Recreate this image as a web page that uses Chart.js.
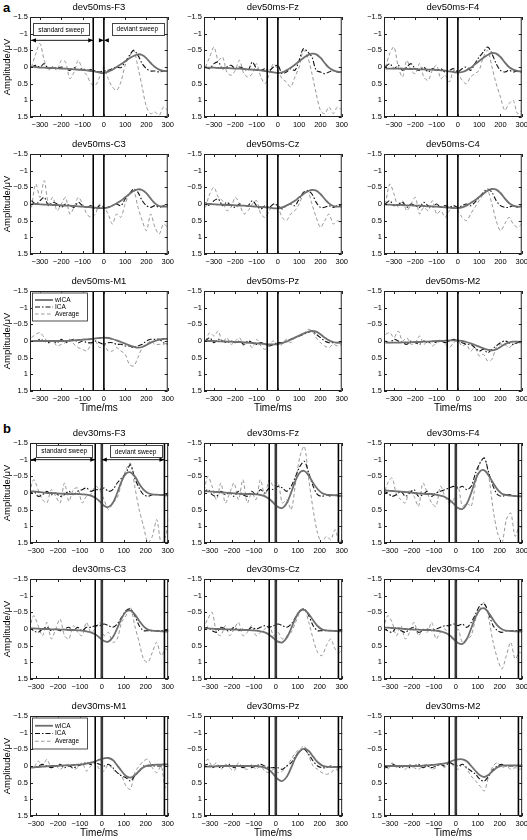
<!DOCTYPE html>
<html>
<head>
<meta charset="utf-8">
<script src="https://cdn.jsdelivr.net/npm/chart.js@4.4.1/dist/chart.umd.min.js"></script>
<style>
  body { margin: 0; width: 527px; height: 840px; overflow: hidden; background: #fff; position: relative; font-family: "Liberation Sans", Arial, sans-serif; }
  canvas { position: absolute; }
  .tag { position: absolute; font-weight: bold; font-size: 13px; line-height: 13px; }
</style>
</head>
<body>
<div class="tag" style="left:3px; top:1px;">a</div>
<div class="tag" style="left:3px; top:422px;">b</div>
<script>
// time axes (ms)
const timeA = [-340,-320,-300,-280,-260,-240,-220,-200,-180,-160,-140,-120,-100,-80,-60,-40,-20,0,20,40,60,80,100,120,140,160,180,200,220,240,260,280,300];
const timeB = [-330,-310,-290,-270,-250,-230,-210,-190,-170,-150,-130,-110,-90,-70,-50,-30,-10,10,30,50,70,90,110,130,150,170,190,210,230,250,270,290,310];
const xTicks = [-300,-200,-100,0,100,200,300];
const yTicks = [-1.5,-1,-0.5,0,0.5,1,1.5];
const xRangeA = [-347, 300];
const xRangeB = [-327, 302];
const markA = [-50, 0];
const markB = [-30, 0, 285];
const seriesNames = ['wICA', 'ICA', 'Average'];

// (a) deviant 50 ms
const a_F3_wica = [0.00,0.00,0.02,0.02,0.03,0.03,0.04,0.05,0.05,0.06,0.07,0.08,0.09,0.10,0.12,0.14,0.17,0.18,0.14,0.08,0.00,-0.08,-0.17,-0.26,-0.33,-0.38,-0.36,-0.26,-0.12,0.00,0.08,0.12,0.12];
const a_F3_ica  = [0.00,-0.05,0.00,-0.10,0.05,0.00,0.05,0.00,0.05,0.10,0.02,0.08,0.05,0.10,0.08,0.12,0.15,0.12,0.10,0.05,0.00,0.02,-0.15,-0.35,-0.50,-0.35,-0.10,0.05,0.12,0.12,0.15,0.12,0.12];
const a_F3_avg  = [0.00,-0.40,-0.70,-0.20,0.10,0.00,0.10,-0.20,-0.15,0.35,0.15,-0.20,0.10,0.25,0.50,0.55,0.30,0.00,0.35,0.60,0.70,0.45,-0.05,-0.30,-0.50,0.00,0.60,1.20,1.40,1.35,1.45,1.20,1.30];

const a_Fz_wica = [0.02,0.02,0.02,0.03,0.03,0.03,0.04,0.05,0.05,0.06,0.07,0.08,0.09,0.10,0.12,0.14,0.16,0.18,0.16,0.10,0.02,-0.07,-0.17,-0.27,-0.35,-0.40,-0.38,-0.28,-0.12,0.02,0.10,0.14,0.15];
const a_Fz_ica  = [0.00,0.05,-0.10,-0.15,0.05,0.00,-0.05,0.05,0.00,0.05,0.10,-0.15,0.05,0.10,0.05,0.10,0.00,-0.05,0.20,0.15,0.05,0.10,-0.20,-0.55,-0.45,-0.30,0.10,0.15,0.20,0.15,0.10,0.15,0.15];
const a_Fz_avg  = [0.00,-0.30,-0.60,-0.20,-0.30,0.15,0.25,0.10,-0.20,0.20,0.30,0.20,-0.10,0.30,0.50,0.20,-0.10,0.10,0.35,0.45,0.60,0.30,0.00,-0.50,-0.30,0.20,0.80,1.30,1.40,1.20,1.40,1.20,1.30];

const a_F4_wica = [0.05,0.05,0.05,0.05,0.05,0.06,0.06,0.06,0.07,0.07,0.08,0.08,0.09,0.10,0.11,0.13,0.15,0.17,0.15,0.10,0.02,-0.08,-0.18,-0.28,-0.36,-0.42,-0.40,-0.30,-0.14,0.00,0.08,0.12,0.14];
const a_F4_ica  = [0.00,-0.10,0.05,-0.05,0.10,0.00,-0.10,0.05,0.10,0.00,0.15,0.05,0.10,0.05,0.15,0.10,0.05,0.15,0.05,0.00,0.10,-0.10,-0.30,-0.45,-0.60,-0.40,-0.10,0.10,0.15,0.10,0.15,0.12,0.15];
const a_F4_avg  = [0.00,-0.40,-0.60,0.00,0.30,-0.20,0.10,0.20,-0.10,0.30,0.40,0.10,-0.05,0.35,0.25,0.45,0.10,0.20,0.40,0.50,0.30,0.20,0.10,-0.30,-0.50,0.00,0.50,0.90,1.30,1.10,1.00,1.40,1.30];

const a_C3_wica = [0.00,0.00,0.01,0.02,0.02,0.03,0.03,0.04,0.05,0.05,0.06,0.07,0.08,0.09,0.10,0.11,0.12,0.12,0.10,0.05,-0.02,-0.10,-0.20,-0.30,-0.39,-0.44,-0.42,-0.32,-0.16,-0.02,0.06,0.08,0.08];
const a_C3_ica  = [-0.10,0.00,-0.10,-0.20,0.05,-0.05,0.00,0.10,0.00,0.05,0.10,-0.05,0.05,0.10,0.05,0.15,0.05,0.10,0.10,0.05,0.00,0.05,-0.15,-0.30,-0.45,-0.35,-0.10,0.05,0.10,0.05,0.10,0.05,0.05];
const a_C3_avg  = [0.10,-0.60,-0.20,-0.70,0.00,-0.20,0.20,0.00,-0.20,0.30,0.10,-0.20,0.00,0.30,0.40,0.30,0.00,0.10,0.30,0.60,0.30,0.40,0.00,-0.30,-0.40,0.10,0.50,0.80,0.30,0.70,0.90,0.60,0.70];

const a_Cz_wica = [0.00,0.00,0.01,0.02,0.02,0.03,0.03,0.04,0.05,0.05,0.06,0.07,0.08,0.09,0.10,0.11,0.13,0.13,0.10,0.05,-0.02,-0.10,-0.20,-0.30,-0.38,-0.42,-0.40,-0.30,-0.15,-0.02,0.06,0.08,0.08];
const a_Cz_ica  = [-0.05,0.05,-0.10,-0.15,0.05,-0.05,0.05,0.10,0.00,0.05,0.05,-0.10,0.05,0.15,0.05,0.10,0.00,0.05,0.15,0.05,0.00,0.05,-0.15,-0.35,-0.40,-0.30,-0.05,0.10,0.10,0.05,0.10,0.05,0.05];
const a_Cz_avg  = [0.10,-0.30,-0.50,-0.20,-0.10,0.20,0.10,-0.20,0.00,0.30,0.20,0.00,-0.10,0.30,0.40,0.20,0.00,0.10,0.40,0.50,0.30,0.20,0.00,-0.30,-0.40,0.00,0.40,0.70,0.50,0.30,0.60,0.50,0.60];

const a_C4_wica = [0.02,0.02,0.03,0.03,0.03,0.04,0.04,0.05,0.05,0.06,0.07,0.07,0.08,0.09,0.10,0.11,0.12,0.12,0.10,0.05,-0.03,-0.11,-0.21,-0.31,-0.40,-0.45,-0.43,-0.33,-0.17,-0.03,0.05,0.08,0.08];
const a_C4_ica  = [0.00,-0.10,0.05,0.00,-0.05,0.10,0.00,0.05,0.10,-0.05,0.05,0.10,0.00,0.10,0.05,0.10,0.05,0.10,0.05,0.00,0.05,-0.05,-0.20,-0.35,-0.45,-0.35,-0.10,0.05,0.10,0.10,0.05,0.10,0.05];
const a_C4_avg  = [0.00,-0.60,-0.30,0.10,-0.10,0.20,0.00,-0.20,0.30,0.10,0.20,-0.10,0.30,0.20,0.40,0.20,0.10,0.20,0.40,0.50,0.30,0.10,-0.10,-0.30,-0.40,0.00,0.50,0.80,0.60,0.40,0.60,0.70,0.60];

const a_M1_wica = [0.00,0.00,0.00,0.00,0.00,0.00,0.00,0.00,0.00,-0.01,-0.02,-0.03,-0.04,-0.05,-0.06,-0.08,-0.09,-0.10,-0.09,-0.06,-0.02,0.03,0.08,0.13,0.17,0.20,0.18,0.12,0.05,0.00,-0.04,-0.06,-0.06];
const a_M1_ica  = [0.00,0.00,-0.05,0.00,0.05,0.00,0.05,-0.05,0.05,0.00,-0.05,0.05,0.00,0.05,0.05,0.00,0.05,0.10,0.05,0.05,0.10,0.10,0.15,0.15,0.20,0.15,0.10,0.00,-0.05,-0.05,-0.05,0.05,0.10];
const a_M1_avg  = [-0.10,-0.20,-0.25,-0.10,0.05,0.00,0.15,0.10,0.05,-0.05,0.10,0.20,0.25,0.30,0.10,0.00,0.20,0.10,0.30,0.30,0.20,0.30,0.40,0.70,0.75,0.50,0.20,0.10,0.00,0.10,0.10,0.10,0.05];

const a_Pz_wica = [0.00,0.00,0.00,0.01,0.01,0.02,0.02,0.03,0.03,0.04,0.05,0.06,0.07,0.08,0.09,0.10,0.10,0.09,0.06,0.02,-0.04,-0.10,-0.16,-0.22,-0.27,-0.30,-0.28,-0.20,-0.10,-0.02,0.03,0.05,0.05];
const a_Pz_ica  = [0.00,-0.10,0.05,-0.05,0.00,0.05,0.00,0.05,0.00,0.10,0.00,0.05,0.10,0.05,0.10,0.15,0.10,0.05,0.05,0.00,-0.05,-0.10,-0.15,-0.20,-0.25,-0.30,-0.20,-0.10,0.00,0.05,0.05,0.05,0.05];
const a_Pz_avg  = [0.00,-0.25,-0.15,-0.30,0.05,-0.10,0.10,0.00,-0.10,0.15,0.05,0.20,-0.05,0.15,0.25,0.10,0.00,0.15,0.10,-0.05,0.05,-0.10,-0.15,-0.20,-0.35,-0.30,-0.10,0.05,0.15,0.20,0.10,0.15,0.10];

const a_M2_wica = [0.05,0.05,0.05,0.05,0.04,0.04,0.04,0.03,0.03,0.02,0.02,0.01,0.00,0.00,-0.01,-0.02,-0.02,-0.02,0.00,0.03,0.07,0.12,0.17,0.22,0.26,0.28,0.25,0.18,0.10,0.05,0.02,0.02,0.03];
const a_M2_ica  = [0.00,0.05,-0.05,0.00,0.05,0.10,0.00,0.05,0.10,0.00,0.05,0.00,0.05,0.00,0.05,0.00,-0.05,0.00,0.05,0.10,0.10,0.20,0.30,0.25,0.35,0.25,0.15,0.05,0.00,0.05,0.10,0.05,0.05];
const a_M2_avg  = [-0.20,-0.25,-0.10,-0.30,0.00,-0.10,0.10,0.05,-0.15,0.10,0.00,0.15,0.05,-0.05,0.10,0.20,0.05,0.00,0.15,0.10,0.30,0.20,0.45,0.40,0.60,0.55,0.20,0.10,0.10,0.20,0.10,0.05,0.05];

// (b) deviant 30 ms
const b_F3_wica = [-0.05,-0.05,-0.03,-0.02,0.00,0.00,0.01,0.02,0.02,0.03,0.03,0.03,0.04,0.05,0.08,0.14,0.25,0.38,0.42,0.30,0.00,-0.35,-0.58,-0.62,-0.50,-0.28,-0.10,0.00,0.04,0.05,0.06,0.07,0.08];
const b_F3_ica  = [0.05,-0.05,0.10,0.05,-0.05,0.05,0.00,0.10,0.05,-0.05,0.05,-0.05,-0.10,-0.15,-0.05,-0.10,-0.10,-0.15,-0.05,-0.10,-0.30,-0.45,-0.60,-0.85,-0.45,-0.15,0.05,0.10,0.05,0.05,0.05,0.05,0.05];
const b_F3_avg  = [0.00,-0.40,-0.10,0.20,0.30,-0.10,0.10,0.30,-0.30,0.25,-0.10,-0.15,0.30,0.10,0.05,-0.20,-0.10,0.20,0.50,0.30,0.15,-0.30,-0.70,-0.90,-0.20,0.50,1.00,1.50,1.30,0.80,1.50,1.30,0.50];

const b_Fz_wica = [-0.05,-0.05,-0.04,-0.03,-0.02,-0.01,0.00,0.01,0.02,0.03,0.03,0.03,0.04,0.06,0.10,0.18,0.30,0.42,0.45,0.30,-0.02,-0.38,-0.62,-0.66,-0.52,-0.30,-0.12,0.00,0.05,0.06,0.07,0.08,0.09];
const b_Fz_ica  = [0.00,-0.10,0.05,0.10,-0.05,0.05,0.00,0.10,-0.05,0.05,0.10,-0.05,0.05,-0.10,0.00,-0.15,-0.10,-0.20,-0.15,-0.05,-0.20,-0.50,-0.80,-0.95,-0.60,-0.20,0.05,0.10,0.05,0.10,0.05,0.10,0.10];
const b_Fz_avg  = [0.10,-0.50,-0.20,0.20,-0.30,0.30,0.00,-0.30,0.20,-0.40,0.30,0.00,0.20,-0.40,0.10,-0.40,-0.20,-0.30,0.30,0.20,0.50,-0.30,-1.10,-1.40,-0.40,0.50,1.20,1.50,1.30,1.40,1.10,1.50,1.20];

const b_F4_wica = [-0.08,-0.07,-0.06,-0.05,-0.04,-0.03,-0.02,0.00,0.01,0.02,0.03,0.03,0.05,0.08,0.12,0.20,0.32,0.45,0.48,0.32,0.00,-0.40,-0.65,-0.68,-0.52,-0.30,-0.10,0.02,0.06,0.08,0.09,0.10,0.10];
const b_F4_ica  = [-0.05,0.00,0.10,0.05,-0.05,0.10,0.00,-0.10,0.10,0.05,-0.05,0.10,0.00,-0.05,-0.10,-0.15,-0.20,-0.15,-0.20,-0.10,-0.20,-0.60,-0.90,-1.05,-0.60,-0.20,0.05,0.10,0.05,0.05,0.10,0.10,0.10];
const b_F4_avg  = [0.10,-0.30,-0.45,0.05,0.20,0.30,-0.10,0.10,0.40,-0.30,0.00,0.30,0.40,-0.20,0.10,0.30,0.20,-0.20,0.40,0.30,0.40,-0.30,-0.90,-1.05,-0.50,0.50,1.20,1.50,0.80,0.60,1.30,1.00,1.20];

const b_C3_wica = [-0.02,-0.02,-0.01,0.00,0.00,0.01,0.01,0.02,0.02,0.03,0.03,0.04,0.05,0.07,0.10,0.16,0.26,0.36,0.38,0.25,-0.02,-0.32,-0.52,-0.55,-0.44,-0.25,-0.08,0.02,0.05,0.06,0.07,0.08,0.08];
const b_C3_ica  = [-0.05,0.05,0.10,0.00,-0.05,0.05,0.00,0.05,0.00,-0.05,0.05,-0.05,0.05,-0.05,-0.05,-0.10,-0.10,-0.15,-0.10,-0.05,-0.15,-0.35,-0.55,-0.60,-0.40,-0.10,0.05,0.05,0.05,0.05,0.05,0.05,0.05];
const b_C3_avg  = [0.00,-0.40,-0.10,0.20,-0.20,0.30,0.00,-0.30,0.20,0.30,-0.10,0.10,0.20,-0.20,0.10,0.00,-0.20,0.20,0.10,0.40,0.30,-0.20,-0.40,-0.65,-0.10,0.40,0.90,1.00,0.70,0.40,0.80,0.60,0.70];

const b_Cz_wica = [-0.02,-0.02,-0.01,0.00,0.00,0.01,0.01,0.02,0.02,0.03,0.03,0.04,0.05,0.07,0.10,0.17,0.28,0.38,0.40,0.26,-0.02,-0.33,-0.54,-0.57,-0.45,-0.26,-0.09,0.01,0.04,0.05,0.06,0.07,0.07];
const b_Cz_ica  = [0.00,-0.05,0.05,0.10,-0.05,0.00,0.05,-0.05,0.05,0.00,0.05,-0.05,0.00,-0.05,-0.10,-0.05,-0.10,-0.15,-0.10,-0.05,-0.15,-0.35,-0.55,-0.60,-0.40,-0.10,0.05,0.05,0.05,0.05,0.05,0.05,0.05];
const b_Cz_avg  = [0.00,-0.30,-0.50,0.10,0.20,-0.10,0.20,0.00,-0.20,0.20,0.10,-0.10,0.20,0.10,0.00,-0.10,0.20,0.10,0.30,0.20,0.10,-0.20,-0.50,-0.60,-0.20,0.30,0.70,0.80,0.50,0.30,0.60,0.70,0.50];

const b_C4_wica = [-0.04,-0.04,-0.03,-0.02,-0.01,0.00,0.01,0.02,0.02,0.03,0.03,0.04,0.05,0.07,0.11,0.18,0.30,0.42,0.45,0.30,-0.02,-0.36,-0.58,-0.62,-0.48,-0.28,-0.10,0.01,0.05,0.06,0.07,0.08,0.08];
const b_C4_ica  = [0.00,0.05,0.10,-0.05,0.05,0.10,0.00,-0.05,0.10,0.05,0.00,0.05,0.00,-0.05,-0.10,-0.10,-0.15,-0.10,-0.15,-0.05,-0.20,-0.45,-0.70,-0.75,-0.45,-0.10,0.05,0.10,0.05,0.05,0.05,0.05,0.05];
const b_C4_avg  = [0.00,-0.40,-0.20,0.20,-0.10,0.30,0.10,-0.20,0.20,0.00,0.10,-0.20,0.30,0.10,0.00,0.20,0.30,0.00,0.40,0.30,0.20,-0.30,-0.60,-0.80,-0.30,0.40,0.90,1.20,0.80,0.40,0.90,0.70,0.80];

const b_M1_wica = [0.05,0.04,0.03,0.02,0.01,0.00,0.00,-0.01,-0.02,-0.02,-0.03,-0.04,-0.05,-0.07,-0.10,-0.14,-0.19,-0.23,-0.24,-0.18,-0.02,0.15,0.30,0.35,0.28,0.15,0.04,-0.02,-0.03,-0.04,-0.04,-0.05,-0.05];
const b_M1_ica  = [0.00,0.05,0.00,-0.05,0.00,0.05,0.00,-0.05,0.05,0.00,0.05,0.00,-0.05,-0.10,-0.05,-0.10,-0.05,0.00,-0.05,0.05,0.20,0.30,0.35,0.45,0.30,0.15,0.00,0.00,0.00,0.00,0.00,0.00,0.00];
const b_M1_avg  = [0.00,0.05,-0.15,0.00,-0.20,0.05,0.00,0.10,0.00,-0.05,0.10,0.05,-0.10,0.15,0.00,-0.10,0.10,0.15,-0.05,0.10,0.20,0.30,0.60,0.70,0.20,0.00,-0.15,-0.20,0.05,0.20,0.00,0.65,0.40];

const b_Pz_wica = [0.02,0.02,0.01,0.01,0.00,0.00,0.00,0.00,0.00,0.00,0.00,0.00,0.00,0.02,0.05,0.12,0.25,0.40,0.45,0.32,0.05,-0.25,-0.45,-0.52,-0.45,-0.28,-0.12,-0.02,0.02,0.03,0.03,0.03,0.03];
const b_Pz_ica  = [0.00,-0.05,0.05,0.00,0.05,0.00,-0.05,0.05,0.00,0.05,0.00,0.05,0.00,-0.05,0.00,0.05,0.05,0.05,0.10,0.00,-0.10,-0.30,-0.45,-0.50,-0.35,-0.15,0.00,0.05,0.05,0.00,0.05,0.05,0.05];
const b_Pz_avg  = [0.00,-0.20,0.00,-0.10,0.10,-0.05,0.05,0.15,-0.10,0.05,0.10,-0.05,0.10,0.00,0.15,0.20,0.10,0.20,0.15,0.00,-0.20,-0.40,-0.50,-0.60,-0.30,0.00,0.10,0.20,0.25,0.20,0.10,0.15,0.10];

const b_M2_wica = [0.00,0.00,0.00,0.00,0.00,0.00,0.00,0.00,0.00,-0.01,-0.02,-0.03,-0.04,-0.06,-0.08,-0.12,-0.17,-0.20,-0.20,-0.14,0.00,0.15,0.28,0.33,0.26,0.14,0.04,-0.01,-0.02,-0.02,-0.02,-0.02,-0.02];
const b_M2_ica  = [0.00,0.05,-0.05,0.00,0.05,0.00,0.05,0.00,-0.05,0.05,0.00,0.05,0.00,-0.05,0.00,-0.10,-0.05,0.00,-0.05,0.05,0.15,0.25,0.40,0.45,0.30,0.10,0.00,-0.05,0.00,0.00,0.00,0.00,0.00];
const b_M2_avg  = [0.00,0.10,-0.10,0.05,0.00,0.10,-0.05,0.05,0.10,0.00,-0.05,0.10,0.05,-0.05,0.05,-0.10,0.00,0.10,-0.05,0.10,0.30,0.45,0.60,0.75,0.30,0.00,-0.10,0.05,0.00,0.10,0.05,0.10,0.05];

// sweep annotation (first panel of each part): box centres in data units
const sweepLabels = ['standard sweep', 'deviant sweep'];
const sweepBoxA = [[-200, -1.13], [157, -1.15]];
const sweepBoxB = [[-171, -1.26], [154, -1.25]];
const sweepArrowY = [-0.8, -1.0];

// layout
const FONT = '"Liberation Sans", Arial, sans-serif';
const PLOT_W = 139, PLOT_H = 100, AXIS_W = 30, TOP_H = 17, PAD_R = 8;
const colLeft = [30, 204, 384];
const rowTopA = [17, 154, 291];
const rowTopB = [443, 579, 716];

const fmt = v => String(v).replace('-', '\u2212');

const panelsA = [
  ['F3', a_F3_wica, a_F3_ica, a_F3_avg], ['Fz', a_Fz_wica, a_Fz_ica, a_Fz_avg], ['F4', a_F4_wica, a_F4_ica, a_F4_avg],
  ['C3', a_C3_wica, a_C3_ica, a_C3_avg], ['Cz', a_Cz_wica, a_Cz_ica, a_Cz_avg], ['C4', a_C4_wica, a_C4_ica, a_C4_avg],
  ['M1', a_M1_wica, a_M1_ica, a_M1_avg], ['Pz', a_Pz_wica, a_Pz_ica, a_Pz_avg], ['M2', a_M2_wica, a_M2_ica, a_M2_avg]
];
const panelsB = [
  ['F3', b_F3_wica, b_F3_ica, b_F3_avg], ['Fz', b_Fz_wica, b_Fz_ica, b_Fz_avg], ['F4', b_F4_wica, b_F4_ica, b_F4_avg],
  ['C3', b_C3_wica, b_C3_ica, b_C3_avg], ['Cz', b_Cz_wica, b_Cz_ica, b_Cz_avg], ['C4', b_C4_wica, b_C4_ica, b_C4_avg],
  ['M1', b_M1_wica, b_M1_ica, b_M1_avg], ['Pz', b_Pz_wica, b_Pz_ica, b_Pz_avg], ['M2', b_M2_wica, b_M2_ica, b_M2_avg]
];

const styles = [
  { borderColor: '#6f6f6f', borderWidth: 1.8, borderDash: [], tension: 0.4 },
  { borderColor: '#111111', borderWidth: 1.1, borderDash: [5, 2, 1.5, 2], tension: 0.3 },
  { borderColor: '#8c8c8c', borderWidth: 0.9, borderDash: [3.5, 2.5], tension: 0.3 }
];

// box, inner ticks, title, sweep annotation and legend
const panelDecor = {
  id: 'panelDecor',
  afterDatasetsDraw(chart) {
    const o = chart.options.plugins.panelDecor;
    const { ctx, chartArea: a, scales: { x, y } } = chart;
    ctx.save();
    ctx.strokeStyle = '#222';
    ctx.lineWidth = 1;
    ctx.strokeRect(a.left + 0.5, a.top + 0.5, a.right - a.left - 1, a.bottom - a.top - 1);
    ctx.beginPath();
    xTicks.forEach(v => {
      const px = Math.round(x.getPixelForValue(v)) + 0.5;
      ctx.moveTo(px, a.bottom); ctx.lineTo(px, a.bottom - 3);
      ctx.moveTo(px, a.top); ctx.lineTo(px, a.top + 3);
    });
    yTicks.forEach(v => {
      const py = Math.round(y.getPixelForValue(v)) + 0.5;
      ctx.moveTo(a.left, py); ctx.lineTo(a.left + 3, py);
      ctx.moveTo(a.right, py); ctx.lineTo(a.right - 3, py);
    });
    ctx.stroke();

    // title over the plot box
    ctx.fillStyle = '#000';
    ctx.font = '9.5px ' + FONT;
    ctx.textAlign = 'center';
    ctx.textBaseline = 'middle';
    ctx.fillText(o.title, (a.left + a.right) / 2, a.top - 9.5);

    if (o.sweep) {
      const s = o.sweep;
      ctx.strokeStyle = '#000';
      ctx.fillStyle = '#000';
      ctx.lineWidth = 0.9;
      const ay = y.getPixelForValue(s.arrowY);
      const arrow = (x1, x2) => {
        ctx.beginPath(); ctx.moveTo(x1, ay); ctx.lineTo(x2, ay); ctx.stroke();
        [[x1, 1], [x2, -1]].forEach(([px, d]) => {
          ctx.beginPath();
          ctx.moveTo(px, ay); ctx.lineTo(px + d * 5, ay - 2.2); ctx.lineTo(px + d * 5, ay + 2.2);
          ctx.closePath(); ctx.fill();
        });
      };
      arrow(a.left + 1, x.getPixelForValue(s.marks[0]));
      arrow(x.getPixelForValue(0), x.getPixelForValue(s.marks[s.marks.length - 1]));
      ctx.font = '6.5px ' + FONT;
      sweepLabels.forEach((lab, i) => {
        const cx = x.getPixelForValue(s.boxes[i][0]);
        const cy = y.getPixelForValue(s.boxes[i][1]);
        const w = ctx.measureText(lab).width + 10, h = 12;
        ctx.fillStyle = '#fff';
        ctx.fillRect(cx - w / 2, cy - h / 2, w, h);
        ctx.strokeStyle = '#444';
        ctx.lineWidth = 1;
        ctx.strokeRect(Math.round(cx - w / 2) + 0.5, Math.round(cy - h / 2) + 0.5, Math.round(w), h);
        ctx.fillStyle = '#000';
        ctx.fillText(lab, cx, cy + 0.5);
      });
    }

    if (o.legend) {
      const lx = a.left + 2, ly = a.top + 1.5, lw = 55, lh = o.legendH;
      ctx.fillStyle = '#fff';
      ctx.fillRect(lx, ly, lw, lh);
      ctx.strokeStyle = '#222';
      ctx.lineWidth = 0.8;
      ctx.strokeRect(lx + 0.5, ly + 0.5, lw, lh);
      ctx.font = '6.5px ' + FONT;
      ctx.textAlign = 'left';
      seriesNames.forEach((name, i) => {
        const st = styles[i];
        const yy = ly + lh * (i + 1) / 4 + 0.5;
        ctx.beginPath();
        ctx.setLineDash(st.borderDash);
        ctx.strokeStyle = st.borderColor;
        ctx.lineWidth = st.borderWidth;
        ctx.moveTo(lx + 3, yy); ctx.lineTo(lx + 21, yy); ctx.stroke();
        ctx.setLineDash([]);
        ctx.fillStyle = '#000';
        ctx.fillText(name, lx + 23, yy);
      });
    }
    ctx.restore();
  }
};

function makePanel(part, idx, p) {
  const row = Math.floor(idx / 3), col = idx % 3;
  const isA = part === 'a';
  const times = isA ? timeA : timeB;
  const range = isA ? xRangeA : xRangeB;
  const marks = isA ? markA : markB;
  const bottomH = row === 2 ? 25 : 13;
  const c = document.createElement('canvas');
  c.width = AXIS_W + PLOT_W + PAD_R;
  c.height = TOP_H + PLOT_H + bottomH;
  c.style.left = (colLeft[col] - AXIS_W) + 'px';
  c.style.top = ((isA ? rowTopA : rowTopB)[row] - TOP_H) + 'px';
  document.body.appendChild(c);

  const datasets = marks.map(m => ({
    data: [{ x: m, y: -1.5 }, { x: m, y: 1.5 }],
    borderColor: (!isA && m === 0) ? '#3a3a3a' : '#000',
    borderWidth: (!isA && m === 0) ? 2.6 : 1.6,
    pointRadius: 0
  }));
  [p[1], p[2], p[3]].forEach((vals, i) => {
    datasets.push(Object.assign({
      label: seriesNames[i],
      data: times.map((t, k) => ({ x: t, y: vals[k] })),
      pointRadius: 0,
      fill: false
    }, styles[i]));
  });

  new Chart(c.getContext('2d'), {
    type: 'line',
    data: { datasets },
    options: {
      responsive: false,
      animation: false,
      devicePixelRatio: 1,
      events: [],
      layout: { padding: { left: 0, right: PAD_R, top: TOP_H, bottom: 0 } },
      plugins: {
        legend: { display: false },
        tooltip: { enabled: false },
        panelDecor: {
          title: 'dev' + (isA ? '50' : '30') + 'ms-' + p[0],
          sweep: idx === 0 ? { boxes: isA ? sweepBoxA : sweepBoxB, arrowY: sweepArrowY[isA ? 0 : 1], marks } : null,
          legend: idx === 6,
          legendH: isA ? 28 : 31
        }
      },
      scales: {
        x: {
          type: 'linear', min: range[0], max: range[1],
          grid: { display: false, drawTicks: false },
          border: { display: false },
          afterBuildTicks: s => { s.ticks = xTicks.map(v => ({ value: v })); },
          afterFit: s => { s.height = bottomH; },
          ticks: { color: '#000', font: { family: FONT, size: 7.5 }, padding: 3, maxRotation: 0, autoSkip: false, callback: v => fmt(v) },
          title: { display: row === 2, text: 'Time/ms', color: '#000', font: { family: FONT, size: 10, lineHeight: '12px' }, padding: { top: 0, bottom: 2 } }
        },
        y: {
          type: 'linear', reverse: true, min: -1.5, max: 1.5,
          grid: { display: false, drawTicks: false },
          border: { display: false },
          afterBuildTicks: s => { s.ticks = yTicks.map(v => ({ value: v })); },
          afterFit: s => { s.width = AXIS_W; },
          ticks: { color: '#000', font: { family: FONT, size: 7.5 }, padding: 2, callback: v => fmt(v) },
          title: { display: col === 0, text: 'Amplitude/\u03bcV', color: '#000', font: { family: FONT, size: 9.5, lineHeight: '12px' }, padding: { top: 1, bottom: 0 } }
        }
      }
    },
    plugins: [panelDecor]
  });
}

panelsA.forEach((p, i) => makePanel('a', i, p));
panelsB.forEach((p, i) => makePanel('b', i, p));
</script>
</body>
</html>
